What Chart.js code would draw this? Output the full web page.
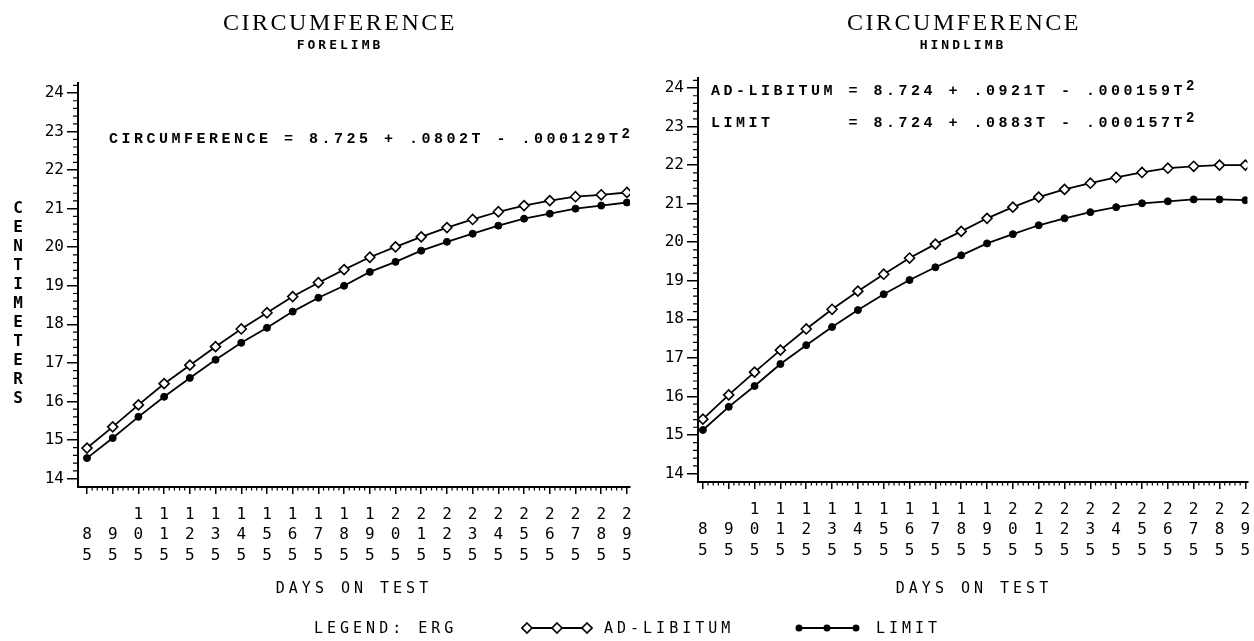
<!DOCTYPE html>
<html>
<head>
<meta charset="utf-8">
<script src="https://cdn.jsdelivr.net/npm/chart.js@4.4.1/dist/chart.umd.min.js"></script>
<style>
  body { margin: 0; background: #fff; }
  #page { position: relative; width: 1254px; height: 641px; overflow: hidden; background: #fff; color: #000; }
  canvas { position: absolute; top: 0; }
  #foreChart { left: 0; }
  #hindChart { left: 640px; }
  .t { position: absolute; white-space: pre; line-height: 1; }
  .title { font-family: 'Liberation Serif', serif; font-size: 24px; letter-spacing: 2.5px; transform: translateX(-50%); }
  .sub { font-family: 'DejaVu Sans Mono', monospace; font-weight: bold; font-size: 13px; letter-spacing: 3px; transform: translateX(-50%); }
  .eq { font-family: 'Liberation Mono', monospace; font-weight: bold; font-size: 15px; letter-spacing: 3.5px; }
  .eq sup { font-size: 14px; position: relative; top: -5px; vertical-align: top; }
  .plot { font-family: 'DejaVu Sans Mono', monospace; font-size: 15px; letter-spacing: 4px; }
  .ytitle { font-family: 'DejaVu Sans Mono', monospace; font-weight: bold; font-size: 16px; line-height: 19px; text-align: center; width: 20px; }
  svg { position: absolute; }
</style>
</head>
<body>
<div id="page">
  <canvas id="foreChart" width="640" height="641"></canvas>
  <canvas id="hindChart" width="614" height="641"></canvas>

  <div class="t title" style="left:340px; top:10px;">CIRCUMFERENCE</div>
  <div class="t sub" style="left:340px; top:38px;">FORELIMB</div>
  <div class="t title" style="left:964px; top:10px;">CIRCUMFERENCE</div>
  <div class="t sub" style="left:963px; top:38px;">HINDLIMB</div>

  <div class="t eq" style="left:109px; top:132px;">CIRCUMFERENCE = 8.725 + .0802T - .000129T<sup>2</sup></div>
  <div class="t eq" style="left:711px; top:84px;">AD-LIBITUM = 8.724 + .0921T - .000159T<sup>2</sup></div>
  <div class="t eq" style="left:711px; top:116px;">LIMIT      = 8.724 + .0883T - .000157T<sup>2</sup></div>

  <div class="t ytitle" style="left:8px; top:198px;">C<br>E<br>N<br>T<br>I<br>M<br>E<br>T<br>E<br>R<br>S</div>

  <div class="t plot" style="left:354px; top:581px; transform:translateX(-50%);">DAYS ON TEST</div>
  <div class="t plot" style="left:974px; top:581px; transform:translateX(-50%);">DAYS ON TEST</div>

  <div class="t plot" style="left:314px; top:621px;">LEGEND: ERG</div>
  <svg style="left:521px; top:620px;" width="72" height="16">
    <line x1="6" y1="8" x2="66" y2="8" stroke="#000" stroke-width="1.8"/>
    <polygon points="6,3 11,8 6,13 1,8" fill="#fff" stroke="#000" stroke-width="1.6"/>
    <polygon points="36,3 41,8 36,13 31,8" fill="#fff" stroke="#000" stroke-width="1.6"/>
    <polygon points="66,3 71,8 66,13 61,8" fill="#fff" stroke="#000" stroke-width="1.6"/>
  </svg>
  <div class="t plot" style="left:604px; top:621px;">AD-LIBITUM</div>
  <svg style="left:795px; top:620px;" width="66" height="16">
    <line x1="4" y1="8" x2="61" y2="8" stroke="#000" stroke-width="1.8"/>
    <circle cx="4" cy="8" r="3.5" fill="#000"/>
    <circle cx="32" cy="8" r="3.5" fill="#000"/>
    <circle cx="61" cy="8" r="3.5" fill="#000"/>
  </svg>
  <div class="t plot" style="left:876px; top:621px;">LIMIT</div>
</div>

<script>
const days = [85, 95, 105, 115, 125, 135, 145, 155, 165, 175, 185, 195, 205, 215, 225, 235, 245, 255, 265, 275, 285, 295];
const yTicks = [14, 15, 16, 17, 18, 19, 20, 21, 22, 23, 24];

// forelimb circumference, cm
const foreAdLib = [14.79, 15.34, 15.91, 16.46, 16.94, 17.42, 17.88, 18.30, 18.72, 19.08, 19.42,
                   19.74, 20.01, 20.27, 20.51, 20.72, 20.92, 21.08, 21.21, 21.31, 21.36, 21.42];
const foreLimit = [14.53, 15.05, 15.60, 16.12, 16.61, 17.08, 17.52, 17.91, 18.33, 18.69, 19.00,
                   19.36, 19.62, 19.91, 20.14, 20.35, 20.56, 20.74, 20.87, 21.00, 21.08, 21.16];

// hindlimb circumference, cm
const hindAdLib = [15.41, 16.04, 16.63, 17.20, 17.75, 18.26, 18.73, 19.17, 19.59, 19.95, 20.28,
                   20.62, 20.91, 21.17, 21.37, 21.53, 21.68, 21.81, 21.92, 21.97, 22.00, 22.00];
const hindLimit = [15.13, 15.73, 16.27, 16.84, 17.33, 17.80, 18.24, 18.65, 19.02, 19.35, 19.66,
                   19.97, 20.21, 20.44, 20.62, 20.78, 20.91, 21.01, 21.06, 21.11, 21.11, 21.09];

const plotFont = "'DejaVu Sans Mono', monospace";

// small ticks between the labelled ones
const minorTicks = {
  id: 'minorTicks',
  afterDraw(chart) {
    const { ctx, chartArea: a } = chart;
    const x = chart.scales.x, y = chart.scales.y;
    ctx.save();
    ctx.strokeStyle = '#000';
    ctx.lineWidth = 1.2;
    ctx.beginPath();
    for (let d = 87; d < 295; d += 2) {
      if ((d - 85) % 10 === 0) continue;
      const px = x.getPixelForValue(d);
      ctx.moveTo(px, a.bottom);
      ctx.lineTo(px, a.bottom + 3.5);
    }
    for (let i = 1; i <= 51; i++) {
      if (i % 5 === 0) continue;
      const py = y.getPixelForValue(14 + i * 0.2);
      if (py < a.top) break;
      ctx.moveTo(a.left, py);
      ctx.lineTo(a.left - 5, py);
    }
    ctx.stroke();
    ctx.restore();
  }
};

function toPoints(values) {
  return values.map((v, i) => ({ x: days[i], y: v }));
}

function makePanel(id, adLib, limit, xMin, xMax, padding) {
  const ctx = document.getElementById(id).getContext('2d');
  return new Chart(ctx, {
    type: 'line',
    data: {
      datasets: [
        {
          label: 'AD-LIBITUM',
          data: toPoints(adLib),
          borderColor: '#000',
          borderWidth: 1.8,
          pointStyle: 'rectRot',
          pointRadius: 5,
          pointBackgroundColor: '#fff',
          pointBorderColor: '#000',
          pointBorderWidth: 1.6
        },
        {
          label: 'LIMIT',
          data: toPoints(limit),
          borderColor: '#000',
          borderWidth: 1.8,
          pointStyle: 'circle',
          pointRadius: 3.5,
          pointBackgroundColor: '#000',
          pointBorderColor: '#000',
          pointBorderWidth: 1
        }
      ]
    },
    options: {
      responsive: false,
      animation: false,
      devicePixelRatio: 1,
      layout: { padding: padding },
      plugins: {
        legend: { display: false },
        tooltip: { enabled: false }
      },
      scales: {
        x: {
          type: 'linear',
          min: xMin,
          max: xMax,
          afterBuildTicks: s => { s.ticks = days.map(v => ({ value: v })); },
          afterFit: s => { s.height = 100; s.paddingLeft = 0; s.paddingRight = 0; },
          ticks: {
            autoSkip: false,
            maxRotation: 0,
            color: '#000',
            padding: 10,
            font: { family: plotFont, size: 16, lineHeight: 1.3 },
            callback: v => {
              const digits = String(v).split('');
              while (digits.length < 3) digits.unshift(' ');
              return digits;
            }
          },
          grid: { drawOnChartArea: false, color: '#000', lineWidth: 1.5, tickLength: 7 },
          border: { color: '#000', width: 2 }
        },
        y: {
          min: 13.78,
          max: 24.26,
          afterBuildTicks: s => { s.ticks = yTicks.map(v => ({ value: v })); },
          afterFit: s => { s.width = 40; s.paddingTop = 0; s.paddingBottom = 0; },
          ticks: {
            color: '#000',
            padding: 3,
            font: { family: plotFont, size: 16 }
          },
          grid: { drawOnChartArea: false, color: '#000', lineWidth: 1.5, tickLength: 11 },
          border: { color: '#000', width: 2 }
        }
      }
    },
    plugins: [minorTicks]
  });
}

window.onload = function () {
  makePanel('foreChart', foreAdLib, foreLimit, 81.5, 296.2, { top: 83, left: 38, right: 10, bottom: 54 });
  makePanel('hindChart', hindAdLib, hindLimit, 83.1, 295.8, { top: 78, left: 18, right: 4, bottom: 59 });
};
</script>
</body>
</html>
